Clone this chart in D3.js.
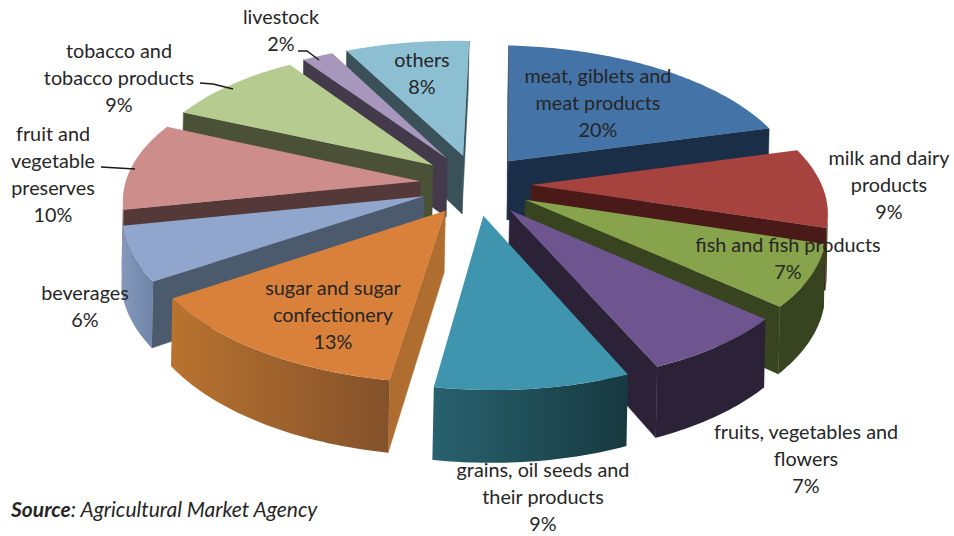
<!DOCTYPE html>
<html>
<head>
<meta charset="utf-8">
<script src="https://cdn.jsdelivr.net/npm/d3@7/dist/d3.min.js"></script>
<style>
html,body{margin:0;padding:0;background:#fff;}
svg{display:block;}
text{font-family:Lato,"Open Sans",sans-serif;fill:#262626;}
</style>
</head>
<body>
<svg id="chart" width="954" height="536"></svg>
<script>
// Food industry sales structure, in percent
const categories = [
  "meat, giblets and meat products", "milk and dairy products", "fish and fish products",
  "fruits, vegetables and flowers", "grains, oil seeds and their products",
  "sugar and sugar confectionery", "beverages", "fruit and vegetable preserves",
  "tobacco and tobacco products", "livestock", "others"
];
const shares = [20, 9, 7, 7, 9, 13, 6, 10, 9, 2, 8];

// Colours per slice: top face, radial faces, outer wall (left and right ends)
const topColors  = ["#4473A7","#A6433F","#87A34B","#6F5590","#3F95AE","#D9813A","#90A6CD","#CD8D8B","#B6CB90","#A797BC","#8DBFD3"];
const cutColors  = ["#1B2E47","#4A1A18","#384320","#2C2238","#1D4553","#B06D30","#4C5A6E","#553838","#4B5137","#433A4C","#3A5159"];
const wallLeft   = ["#1B2E47","#384320","#384320","#2C2238","#28626F","#B9732F","#8599BC","#A57170","#4B5137","#433A4C","#3A5159"];
const wallRight  = ["#1B2E47","#384320","#384320","#2C2238","#17393F","#83512A","#6F84A6","#A57170","#4B5137","#433A4C","#3A5159"];

// Label lines per slice, in slice order
const labelLines = [
  ["meat, giblets and","meat products","20%"],
  ["milk and dairy","products","9%"],
  ["fish and fish products","7%"],
  ["fruits, vegetables and","flowers","7%"],
  ["grains, oil seeds and","their products","9%"],
  ["sugar and sugar","confectionery","13%"],
  ["beverages","6%"],
  ["fruit and","vegetable","preserves","10%"],
  ["tobacco and","tobacco products","9%"],
  ["livestock","2%"],
  ["others","8%"]
];
const labelAnchors = [[598,83],[889,165],[788,252],[806,439],[543,477],[333,295],[85,300],[53,141],[119,58],[281,24],[422,67]];
const leaders = [
  [[298,51],[307,51],[319,60]],
  [[200,83],[213,84],[233,89]],
  [[101,167],[135,169]]
];

const svg = d3.select("#chart");
const defs = svg.append("defs");

// Camera: unit disc on the ground plane, Y towards the viewer, Z downwards; roll tips the view slightly
const cx = 475.5, cy = 184.5, rx = 293, ry = 139, camera = 6.9, thickness = 60, roll = 0.02;
const explodeX = 0.19, explodeY = 0.2185;
const spin = 0.5 * Math.PI / 180;

const project = (X, Y, Z) => {
  const s = 1 / (1 - Y / camera);
  const u = rx * X * s, v = (ry * Y + thickness * Z) * s;
  return [cx + u - roll * v, cy + v + roll * u];
};

const pie = d3.pie().value(d => d).sort(null)
  .startAngle(spin).endAngle(spin + 2 * Math.PI);
const slices = pie(shares).map((d, i) => {
  const mid = (d.startAngle + d.endAngle) / 2;
  return {i, a0: d.startAngle, a1: d.endAngle,
          ox: explodeX * Math.sin(mid), oy: -explodeY * Math.cos(mid)};
});

// d3.polygonArea is positive for faces wound towards the camera here
const facesCamera = pts => d3.polygonArea(pts) > 0;
const line = d3.line();
const closed = pts => line(pts) + "Z";

const layer = svg.append("g");

// Painter's order: slices furthest from the viewer come first
slices.slice().sort((a, b) => a.oy - b.oy).forEach(sl => {
  const g = layer.append("g");
  const steps = Math.max(2, Math.ceil((sl.a1 - sl.a0) / (Math.PI / 180)));
  const rim = d3.range(steps + 1).map(k => {
    const a = sl.a0 + (sl.a1 - sl.a0) * k / steps;
    return [sl.ox + Math.sin(a), sl.oy - Math.cos(a)];
  });
  const apex = [sl.ox, sl.oy];
  const P = (p, z) => project(p[0], p[1], z);
  const faces = [[apex, rim[0]], [rim[steps], apex]];

  // Radial faces, drawn only where they look towards the camera
  faces.forEach(([p, q]) => {
    const quad = [P(p,0), P(q,0), P(q,1), P(p,1)];
    if (facesCamera(quad)) {
      g.append("path").attr("d", closed(quad))
        .attr("fill", cutColors[sl.i]).attr("stroke", cutColors[sl.i]).attr("stroke-width", 0.5);
    }
  });

  // Outer wall: contiguous runs of camera-facing rim segments
  const runs = [];
  let run = null;
  for (let k = 0; k < steps; k++) {
    const quad = [P(rim[k],0), P(rim[k+1],0), P(rim[k+1],1), P(rim[k],1)];
    if (facesCamera(quad)) {
      if (!run) { run = [k]; runs.push(run); }
      run.push(k + 1);
    } else run = null;
  }
  runs.forEach((r, n) => {
    const top = r.map(k => P(rim[k], 0));
    const bot = r.map(k => P(rim[k], 1)).reverse();
    const xs = top.concat(bot).map(p => p[0]);
    const id = `wall-${sl.i}-${n}`;
    const grad = defs.append("linearGradient").attr("id", id)
      .attr("gradientUnits", "userSpaceOnUse")
      .attr("x1", d3.min(xs)).attr("x2", d3.max(xs)).attr("y1", 0).attr("y2", 0);
    grad.append("stop").attr("offset", 0).attr("stop-color", wallLeft[sl.i]);
    grad.append("stop").attr("offset", 1).attr("stop-color", wallRight[sl.i]);
    g.append("path").attr("d", closed(top.concat(bot))).attr("fill", `url(#${id})`);
  });

  // Top face
  g.append("path").attr("d", closed([P(apex,0)].concat(rim.map(p => P(p,0)))))
    .attr("fill", topColors[sl.i]);
});

// Leader lines
svg.append("g").selectAll("path").data(leaders).join("path")
  .attr("d", d => line(d)).attr("fill", "none").attr("stroke", "#1a1a1a").attr("stroke-width", 1.4);

// Slice labels
const lineStep = 27;
svg.append("g").selectAll("text").data(labelLines).join("text")
  .attr("text-anchor", "middle").attr("font-size", 19.8)
  .each(function(lines, i) {
    const [x, y] = labelAnchors[i];
    d3.select(this).selectAll("tspan").data(lines).join("tspan")
      .attr("x", x).attr("y", (d, k) => y + k * lineStep).text(d => d);
  });

// Source note
const source = svg.append("text").attr("x", 11).attr("y", 517)
  .attr("font-size", 21).attr("font-style", "italic");
source.append("tspan").attr("font-weight", "bold").text("Source");
source.append("tspan").text(": Agricultural Market Agency");
</script>
</body>
</html>
